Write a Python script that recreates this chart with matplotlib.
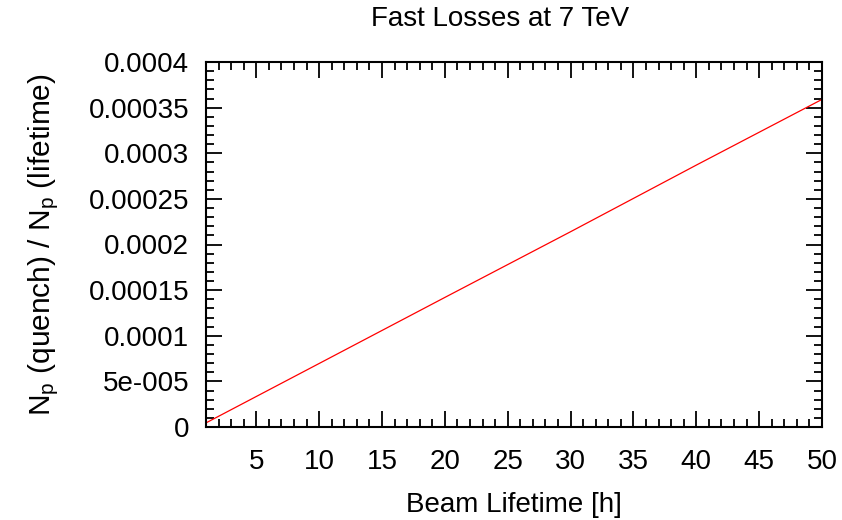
import matplotlib
matplotlib.use("Agg")
import matplotlib.pyplot as plt
from matplotlib.ticker import MultipleLocator

plt.rcParams["font.family"] = ["Liberation Sans", "DejaVu Sans"]
plt.rcParams["mathtext.fontset"] = "custom"
plt.rcParams["mathtext.rm"] = "Liberation Sans"
plt.rcParams["mathtext.it"] = "Liberation Sans:italic"

# beam lifetime [h] vs fraction of protons lost before quench
lifetime = [1, 10, 20, 30, 40, 50]
ratio = [4.5e-6, 6.96e-5, 1.42e-4, 2.14e-4, 2.87e-4, 3.59e-4]

y_ticks = [0, 5e-5, 1e-4, 1.5e-4, 2e-4, 2.5e-4, 3e-4, 3.5e-4, 4e-4]
y_labels = ["0", "5e-005", "0.0001", "0.00015", "0.0002",
            "0.00025", "0.0003", "0.00035", "0.0004"]
x_ticks = [5, 10, 15, 20, 25, 30, 35, 40, 45, 50]

fig = plt.figure(figsize=(8.42, 5.2), dpi=100)
ax = fig.add_axes([206 / 842, 1 - 427 / 520, 616 / 842, 365 / 520])

ax.plot(lifetime, ratio, color="red", linewidth=0.9)

ax.set_xlim(1, 50)
ax.set_ylim(0, 4e-4)
ax.set_xticks(x_ticks)
ax.set_yticks(y_ticks)
ax.set_yticklabels(y_labels)
ax.xaxis.set_minor_locator(MultipleLocator(1))
ax.yaxis.set_minor_locator(MultipleLocator(1e-5))

ax.tick_params(which="both", direction="in", top=True, right=True,
               width=1.3, labelsize=20)
ax.tick_params(which="major", length=11.5)
ax.tick_params(which="minor", length=6)
ax.tick_params(axis="x", pad=16)
ax.tick_params(axis="y", pad=12)
for s in ax.spines.values():
    s.set_linewidth(1.5)

ax.set_xlabel("Beam Lifetime [h]", fontsize=20, labelpad=12)
ax.set_ylabel(r"N$_{\mathrm{p}}$ (quench) / N$_{\mathrm{p}}$ (lifetime)",
              fontsize=21.5, labelpad=20)
fig.text(500 / 842, 1 - 19 / 520, "Fast Losses at 7 TeV", fontsize=20,
         ha="center", va="center")

fig.savefig("out.png", dpi=100)
